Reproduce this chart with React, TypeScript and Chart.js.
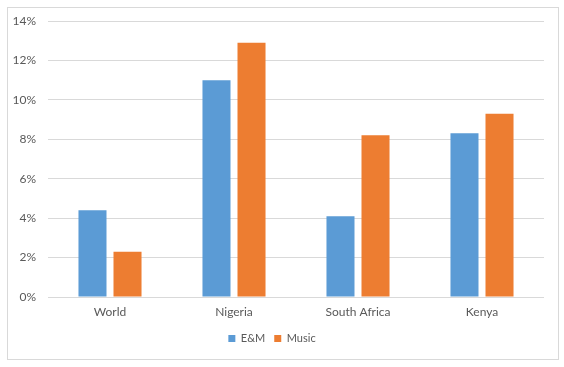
import React, { useEffect, useRef } from "react";
import { Chart, registerables } from "chart.js";
Chart.register(...registerables);

const categories = ["World", "Nigeria", "South Africa", "Kenya"];
const emValues = [4.4, 11.0, 4.1, 8.3];
const musicValues = [2.3, 12.9, 8.2, 9.3];
const seriesNames = ["E&M", "Music"];

const FONT = "Lato, 'Open Sans', sans-serif";

const borderPlugin = {
  id: "outerBorder",
  beforeDraw(chart: any) {
    const ctx = chart.ctx;
    ctx.save();
    ctx.fillStyle = "#ffffff";
    ctx.fillRect(0, 0, chart.width, chart.height);
    ctx.strokeStyle = "#d9d9d9";
    ctx.lineWidth = 1;
    ctx.strokeRect(7.5, 7.5, 551, 352);
    ctx.restore();
  },
};

export default function App() {
  const ref = useRef<HTMLCanvasElement>(null);
  useEffect(() => {
    document.body.style.margin = "0";
    const chart = new Chart(ref.current!, {
      type: "bar",
      data: {
        labels: categories,
        datasets: [
          { label: seriesNames[0], data: emValues, backgroundColor: "#5B9BD5" },
          { label: seriesNames[1], data: musicValues, backgroundColor: "#ED7D31" },
        ],
      },
      plugins: [borderPlugin],
      options: {
        animation: false,
        responsive: false,
        maintainAspectRatio: false,
        layout: { padding: { left: 0, right: 20, top: 21, bottom: 13 } },
        datasets: { bar: { categoryPercentage: 0.565, barPercentage: 0.8 } },
        plugins: {
          tooltip: { enabled: false },
          legend: {
            position: "bottom",
            labels: {
              boxWidth: 7,
              boxHeight: 7,
              color: "#595959",
              font: { family: FONT, size: 11 },
              padding: 9,
            },
          },
        },
        scales: {
          x: {
            grid: { display: false, drawTicks: false },
            border: { display: false },
            ticks: { color: "#595959", font: { family: FONT, size: 12 }, padding: 8 },
            afterFit: (s: any) => { s.height = 27; },
          },
          y: {
            min: 0,
            max: 14,
            grid: { color: "#d9d9d9", drawTicks: false },
            border: { display: false },
            ticks: {
              stepSize: 2,
              color: "#595959",
              font: { family: FONT, size: 12 },
              padding: 12,
              callback: (v: any) => v + "%",
            },
            afterFit: (s: any) => { s.width = 48; },
          },
        },
      },
    });
    return () => chart.destroy();
  }, []);
  return (
    <div style={{ width: 564, height: 367 }}>
      <canvas ref={ref} width={564} height={367} style={{ display: "block" }} />
    </div>
  );
}
